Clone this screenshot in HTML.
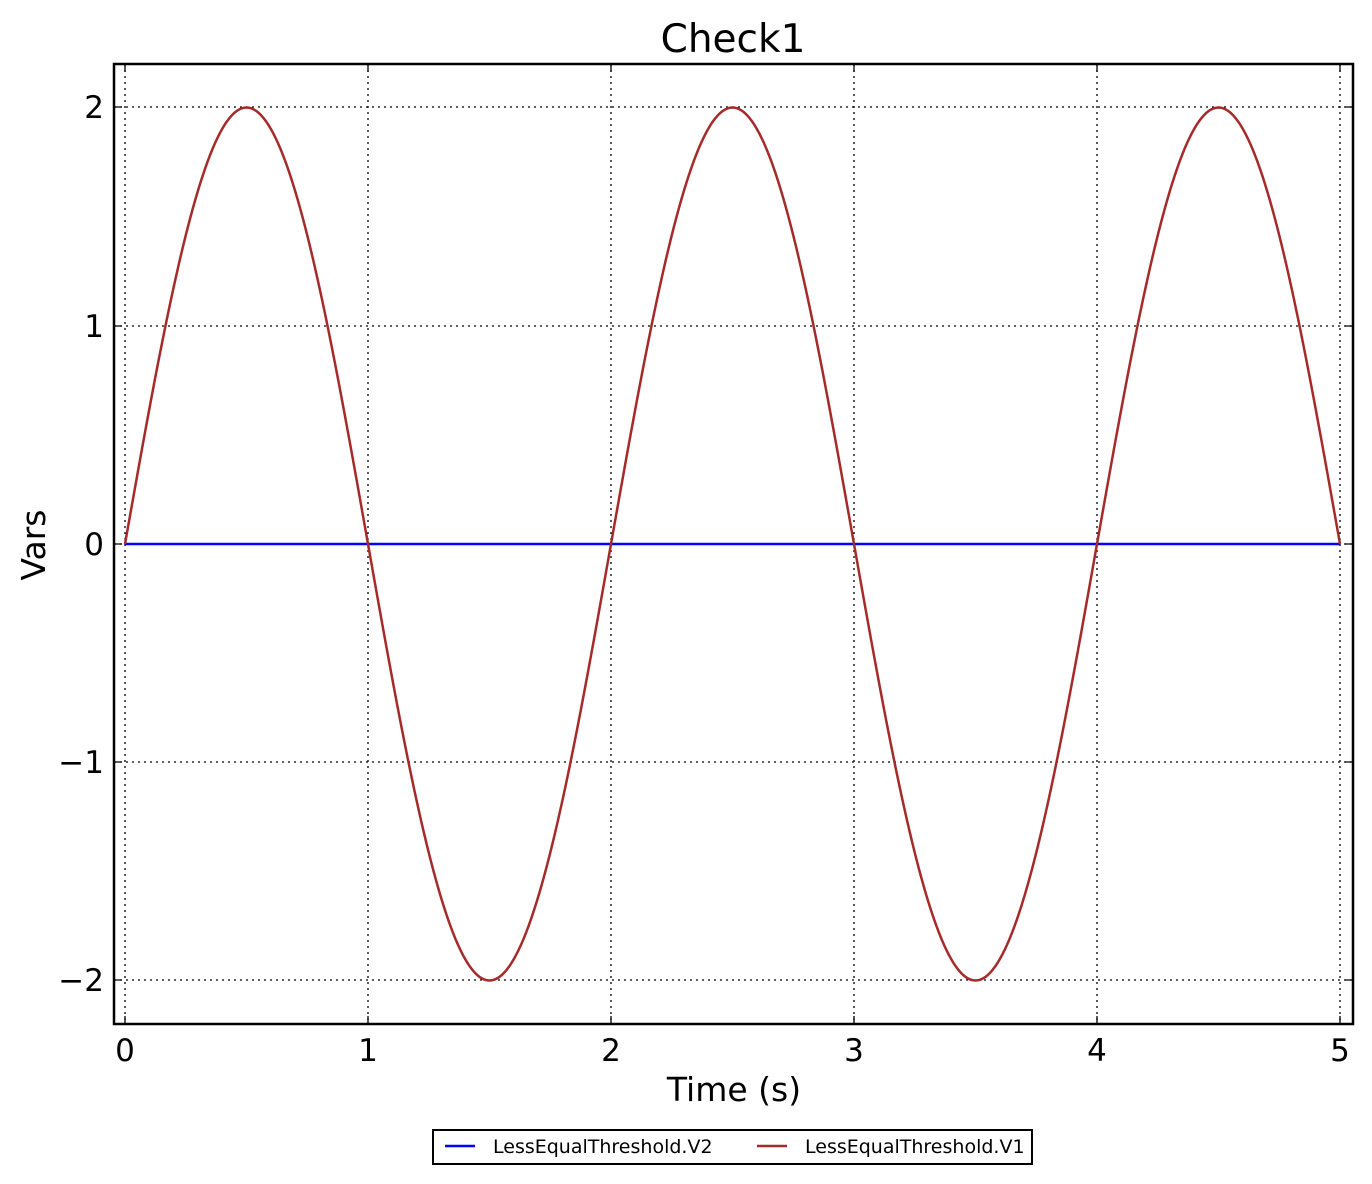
<!DOCTYPE html>
<html><head><meta charset="utf-8"><style>
html,body{margin:0;padding:0;background:#fff;}
svg{display:block;font-family:"DejaVu Sans","Liberation Sans",sans-serif;}
</style></head><body>
<svg id="s" width="1372" height="1184" viewBox="0 0 1372 1184" xmlns="http://www.w3.org/2000/svg">
<rect width="1372" height="1184" fill="#fff"/>
<g stroke="#000" stroke-width="1.3" stroke-dasharray="2,4" fill="none">
<line x1="125" y1="64" x2="125" y2="1024"/>
<line x1="368" y1="64" x2="368" y2="1024"/>
<line x1="611" y1="64" x2="611" y2="1024"/>
<line x1="854" y1="64" x2="854" y2="1024"/>
<line x1="1097" y1="64" x2="1097" y2="1024"/>
<line x1="1340" y1="64" x2="1340" y2="1024"/>
<line x1="114" y1="107" x2="1353" y2="107"/>
<line x1="114" y1="326" x2="1353" y2="326"/>
<line x1="114" y1="544" x2="1353" y2="544"/>
<line x1="114" y1="762" x2="1353" y2="762"/>
<line x1="114" y1="980" x2="1353" y2="980"/>
</g>
<line x1="125" y1="544" x2="1340" y2="544" stroke="#0000ff" stroke-width="2.5"/>
<path id="sin" fill="none" stroke="#a52a2a" stroke-width="2.5" d=""/>
<g stroke="#000" stroke-width="1.3">
<path d="M125 64v8M368 64v8M611 64v8M854 64v8M1097 64v8M1340 64v8M125 1024v-8M368 1024v-8M611 1024v-8M854 1024v-8M1097 1024v-8M1340 1024v-8"/>
<path d="M114 107h8M114 326h8M114 544h8M114 762h8M114 980h8M1353 107h-8M1353 326h-8M1353 544h-8M1353 762h-8M1353 980h-8"/>
</g>
<rect x="114" y="64" width="1239" height="960" fill="none" stroke="#000" stroke-width="2.5"/>
<g font-size="31" fill="#000" text-anchor="middle">
<text x="125" y="1061">0</text><text x="368" y="1061">1</text><text x="611" y="1061">2</text>
<text x="854" y="1061">3</text><text x="1097" y="1061">4</text><text x="1340" y="1061">5</text>
</g>
<g font-size="31" fill="#000" text-anchor="end">
<text x="104" y="118">2</text><text x="104" y="337">1</text><text x="104" y="555">0</text>
<text x="104" y="773">−1</text><text x="104" y="991">−2</text>
</g>
<text x="733" y="52" font-size="39" text-anchor="middle">Check1</text>
<text x="734" y="1101" font-size="33" text-anchor="middle">Time (s)</text>
<text transform="translate(45,545) rotate(-90)" font-size="33" text-anchor="middle">Vars</text>
<rect x="433" y="1130" width="599" height="34" fill="#fff" stroke="#000" stroke-width="2"/>
<line x1="445" y1="1146" x2="475" y2="1146" stroke="#0000ff" stroke-width="2.5"/>
<text x="493" y="1153" font-size="19">LessEqualThreshold.V2</text>
<line x1="757" y1="1146" x2="787" y2="1146" stroke="#a52a2a" stroke-width="2.5"/>
<text x="805" y="1153" font-size="19">LessEqualThreshold.V1</text>
</svg>
<script>
var d="";for(var i=0;i<=500;i++){var t=i/100;var x=125+243*t;var y=544-218.25*2*Math.sin(Math.PI*t);d+=(i?"L":"M")+x.toFixed(2)+" "+y.toFixed(2);}
document.getElementById("sin").setAttribute("d",d);
</script>
</body></html>
